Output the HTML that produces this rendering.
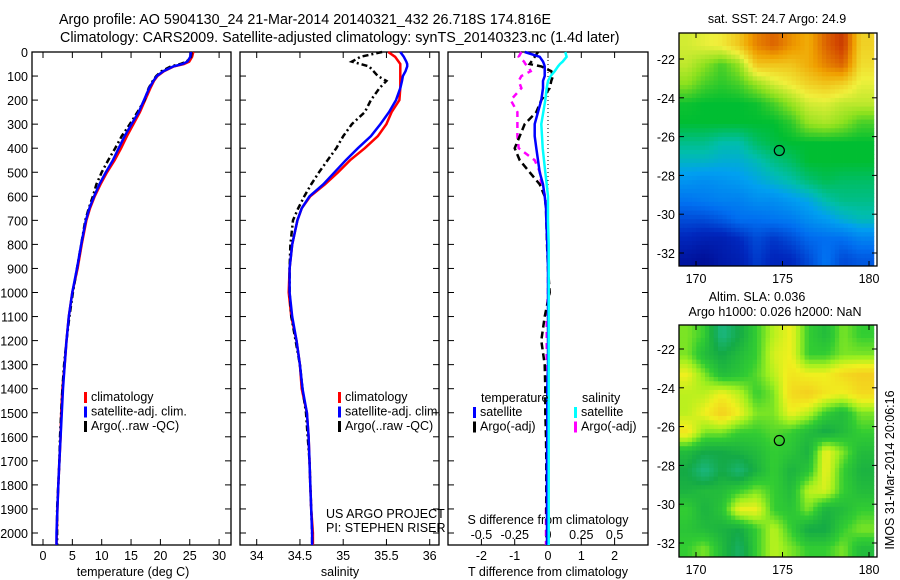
<!DOCTYPE html>
<html><head><meta charset="utf-8"><style>
html,body{margin:0;padding:0;background:#fff;}
svg{display:block;font-family:"Liberation Sans",sans-serif;}
text{font-size:12.5px;fill:#000;}
</style></head><body>
<svg id="fig" width="900" height="580" viewBox="0 0 900 580" xmlns="http://www.w3.org/2000/svg">
<text x="59" y="24" style="font-size:14.3px">Argo profile: AO 5904130_24 21-Mar-2014 20140321_432 26.718S 174.816E</text>
<text x="60" y="42" style="font-size:14.3px">Climatology: CARS2009. Satellite-adjusted climatology: synTS_20140323.nc (1.4d later)</text>
<g id="g1"></g>
<g id="g2"></g>
<g id="g3"></g>
<g id="m1"></g>
<g id="m2"></g>
<text x="777" y="23" text-anchor="middle">sat. SST: 24.7 Argo: 24.9</text>
<text x="757" y="301" text-anchor="middle">Altim. SLA: 0.036</text>
<text x="775" y="316" text-anchor="middle">Argo h1000: 0.026 h2000: NaN</text>
<text transform="translate(894,470) rotate(-90)" text-anchor="middle">IMOS 31-Mar-2014 20:06:16</text>
<text x="326" y="518">US ARGO PROJECT</text>
<text x="326" y="532">PI: STEPHEN RISER</text>
</svg>
<script>
// ---- data ----
const depthTicks=[0,100,200,300,400,500,600,700,800,900,1000,1100,1200,1300,1400,1500,1600,1700,1800,1900,2000];
const tempTicks=[0,5,10,15,20,25,30];
const salTicks=[34,34.5,35,35.5,36];
const salTickLabels=["34","34.5","35","35.5","36"];
const tdTicks=[-2,-1,0,1,2];
const sdTicks=[-0.5,-0.25,0,0.25,0.5];
const sdTickLabels=["-0.5","-0.25","0","0.25","0.5"];
const depths=[0,20,40,50,60,80,100,120,150,200,250,300,350,400,450,500,550,600,650,700,800,900,1000,1100,1200,1300,1400,1500,1600,1700,1800,1900,2000,2050];
const tempClim=[25.6,25.4,24.9,24,22.3,20.6,19.5,18.9,18.3,17.4,16.5,15.4,14.3,13.3,12.2,10.9,9.8,8.8,8.0,7.4,6.6,5.9,5.0,4.4,4.0,3.7,3.3,3.1,3.0,2.8,2.6,2.45,2.35,2.3];
const tempSat=[25.2,25.1,24.6,23.8,22.2,20.5,19.4,18.8,18.1,17.2,16.3,15.1,13.9,12.9,11.9,10.7,9.6,8.7,7.9,7.3,6.5,5.8,5.0,4.4,4.0,3.7,3.4,3.2,3.0,2.8,2.6,2.45,2.3,2.3];
const tempArgo=[25.3,25.2,24.5,23.4,21.8,20.2,19.3,18.7,18.0,17.3,16.1,14.8,13.4,12.3,11.1,10.0,9.1,8.5,7.8,7.2,6.5,5.8,5.1,4.5,4.0,3.6,3.3,3.1,2.9,2.8,2.6,2.4,2.4,2.4];
const salClim=[35.52,35.6,35.64,35.66,35.66,35.66,35.66,35.66,35.66,35.65,35.56,35.5,35.4,35.25,35.08,34.94,34.79,34.62,34.52,34.47,34.41,34.38,34.37,34.4,34.46,34.5,34.52,34.58,34.6,34.61,34.62,34.63,34.65,34.65];
const salSat=[35.66,35.7,35.73,35.74,35.74,35.72,35.69,35.68,35.66,35.61,35.53,35.43,35.32,35.17,35.03,34.9,34.77,34.61,34.52,34.47,34.41,34.38,34.38,34.41,34.46,34.5,34.53,34.58,34.6,34.61,34.62,34.63,34.64,34.64];
const salArgo=[35.45,35.2,35.1,35.2,35.3,35.35,35.4,35.5,35.42,35.32,35.25,35.1,35.0,34.92,34.82,34.72,34.63,34.55,34.48,34.42,34.39,34.38,34.38,34.4,34.45,34.5,34.53,34.57,34.59,34.61,34.62,34.63,34.64,34.64];
const tdSat=[-0.7,-0.25,-0.15,-0.12,-0.1,-0.1,-0.1,-0.15,-0.15,-0.2,-0.3,-0.4,-0.4,-0.35,-0.3,-0.25,-0.15,-0.1,-0.06,-0.05,-0.02,0,0,0,0,0,-0.02,-0.02,-0.02,-0.03,-0.03,-0.03,-0.03,-0.03];
const sdSat=[0.13,0.14,0.11,0.09,0.075,0.05,0.02,0.0,-0.01,-0.02,-0.035,-0.05,-0.045,-0.04,-0.03,-0.02,-0.01,0,0,0,0.005,0.005,0.005,0.005,0.005,0.005,0.005,0.005,0.005,0.005,0.005,0.005,0.005,0.005];
const tdArgo=[-0.3,-0.4,-0.5,-0.55,-0.2,0.1,0.15,0.1,0.05,-0.2,-0.35,-0.7,-0.85,-1.0,-0.85,-0.55,-0.25,-0.1,-0.06,-0.05,-0.03,0,0.05,-0.1,-0.2,-0.1,-0.08,-0.08,-0.06,-0.05,-0.05,-0.05,-0.03,-0.03];
const sdArgo=[-0.2,-0.22,-0.18,-0.17,-0.15,-0.13,-0.2,-0.22,-0.2,-0.28,-0.23,-0.23,-0.23,-0.22,-0.1,-0.06,-0.05,-0.02,-0.01,-0.01,0,0,0,-0.01,-0.01,-0.01,-0.01,-0.01,-0.01,-0.01,-0.01,-0.015,-0.015,-0.015];
const lonTicks=[170,175,180];
const latTicks=[-22,-24,-26,-28,-30,-32];
const sstGrid=[
[0.62,0.64,0.66,0.72,0.82,0.86,0.8,0.76,0.86,0.92,0.7],
[0.6,0.55,0.5,0.56,0.72,0.72,0.72,0.76,0.82,0.86,0.68],
[0.55,0.5,0.48,0.5,0.56,0.62,0.66,0.7,0.72,0.7,0.64],
[0.46,0.45,0.45,0.45,0.46,0.5,0.56,0.62,0.63,0.6,0.6],
[0.45,0.45,0.45,0.45,0.45,0.45,0.48,0.56,0.58,0.55,0.5],
[0.4,0.4,0.38,0.38,0.42,0.44,0.45,0.45,0.45,0.45,0.45],
[0.36,0.36,0.35,0.35,0.37,0.4,0.42,0.45,0.45,0.45,0.45],
[0.31,0.3,0.31,0.32,0.34,0.36,0.38,0.41,0.43,0.42,0.42],
[0.26,0.27,0.28,0.28,0.3,0.3,0.32,0.34,0.38,0.4,0.4],
[0.2,0.2,0.22,0.25,0.25,0.26,0.27,0.3,0.32,0.35,0.37],
[0.14,0.12,0.12,0.15,0.2,0.17,0.2,0.24,0.25,0.25,0.28],
[0.08,0.06,0.1,0.12,0.18,0.14,0.15,0.2,0.26,0.2,0.22]];
const slaGrid=[
[.6,.5,.1,.3,.5,.7,.8,.5,.4,.6,.5],
[.6,.4,.3,.4,.5,.75,.8,.5,.5,.6,.6],
[.8,.6,.4,.45,.55,.7,.85,.8,.8,.9,.95],
[.7,.7,.8,.7,.5,.6,.9,.95,.85,.8,.9],
[.7,.8,.95,.8,.6,.6,.8,.7,.5,.4,.6],
[.85,.6,.6,.5,.5,.55,.5,.4,.3,.4,.5],
[.4,.3,.3,.35,.4,.5,.45,.35,.8,.6,.4],
[.3,.1,.3,.15,.35,.5,.35,.45,.8,.5,.35],
[.35,.4,.4,.5,.6,.5,.4,.7,.75,.5,.4],
[.5,.35,.45,.8,.8,.5,.45,.6,.35,.4,.5],
[.45,.4,.35,.3,.5,.7,.5,.3,.3,.5,.6],
[.5,.6,.4,.2,.5,.7,.6,.5,.5,.6,.4]];
const floatLon=174.816, floatLat=-26.718;

// ---- helpers ----
const NS="http://www.w3.org/2000/svg";
function mk(parent,tag,attrs,txt){const e=document.createElementNS(NS,tag);for(const k in attrs)e.setAttribute(k,attrs[k]);if(txt!==undefined)e.textContent=txt;parent.appendChild(e);return e;}
const Y0=52,PXD=0.2405;
const yD=d=>Y0+d*PXD;
const BOT=545;

function frame(g,x0,x1,name){
  const r=mk(g,'rect',{x:x0,y:Y0,width:x1-x0,height:BOT-Y0,fill:'none',stroke:'#000','stroke-width':1.3});
  
  
  depthTicks.forEach(d=>{
    mk(g,'line',{x1:x0,x2:x0+6,y1:yD(d),y2:yD(d),stroke:'#000'});
    mk(g,'line',{x1:x1,x2:x1-6,y1:yD(d),y2:yD(d),stroke:'#000'});
  });
}
function xticks(g,vals,labels,xf,ly){
  vals.forEach((v,i)=>{
    const x=xf(v);
    mk(g,'line',{x1:x,x2:x,y1:Y0,y2:Y0+6,stroke:'#000'});
    mk(g,'line',{x1:x,x2:x,y1:BOT,y2:BOT-6,stroke:'#000'});
    if(ly){const t=mk(g,'text',{x:x,y:ly,'text-anchor':'middle'},labels[i]);
    
    }
  });
}
function line(g,xs,xf,color,w,dash,name){
  const pts=xs.map((v,i)=>xf(v).toFixed(1)+','+yD(depths[i]).toFixed(1)).join(' ');
  const p=mk(g,'polyline',{points:pts,fill:'none',stroke:color,'stroke-width':w,'stroke-dasharray':dash||'none'});
  
  
}
function legend(g,x,y,items){
  items.forEach((it,i)=>{
    mk(g,'rect',{x:x,y:y+i*14.5-9,width:3,height:11,fill:it[0]});
    const t=mk(g,'text',{x:x+7,y:y+i*14.5},it[1]);
    
    
  });
}

// ---- panel 1: temperature ----
const g1=document.getElementById('g1');
const xT=v=>43+v*5.87;
frame(g1,32,231,'temperature-axes');
depthTicks.forEach(d=>{const t=mk(g1,'text',{x:28,y:yD(d)+5,'text-anchor':'end'},String(d));

});
xticks(g1,tempTicks,tempTicks.map(String),xT,560);
mk(g1,'text',{x:133,y:576,'text-anchor':'middle'},'temperature (deg C)');
line(g1,tempClim,xT,'#f00',2.5,null,'temp-climatology-line');
line(g1,tempArgo,xT,'#000',2.5,'6 3 2 3','temp-argo-line');
line(g1,tempSat,xT,'#00f',2.5,null,'temp-satellite-line');
legend(g1,84,401,[['#f00','climatology'],['#00f','satellite-adj. clim.'],['#000','Argo(..raw -QC)']]);

// ---- panel 2: salinity ----
const g2=document.getElementById('g2');
const xS=v=>256.7+(v-34)*86.5;
frame(g2,240,439,'salinity-axes');
xticks(g2,salTicks,salTickLabels,xS,560);
mk(g2,'text',{x:340,y:576,'text-anchor':'middle'},'salinity');
line(g2,salClim,xS,'#f00',2.5,null,'sal-climatology-line');
line(g2,salArgo,xS,'#000',2.5,'6 3 2 3','sal-argo-line');
line(g2,salSat,xS,'#00f',2.5,null,'sal-satellite-line');
legend(g2,338,401,[['#f00','climatology'],['#00f','satellite-adj. clim.'],['#000','Argo(..raw -QC)']]);

// ---- panel 3: differences ----
const g3=document.getElementById('g3');
const xTd=v=>548+v*33.3;
const xSd=v=>548+v*133.2;
frame(g3,448,648,'difference-axes');
xticks(g3,tdTicks,tdTicks.map(String),xTd,560);
sdTicks.forEach((v,i)=>{const t=mk(g3,'text',{x:xSd(v),y:539,'text-anchor':'middle'},sdTickLabels[i]);

});
mk(g3,'text',{x:548,y:524,'text-anchor':'middle'},'S difference from climatology');
mk(g3,'text',{x:548,y:576,'text-anchor':'middle'},'T difference from climatology');
mk(g3,'line',{x1:548,x2:548,y1:Y0,y2:BOT,stroke:'#000','stroke-dasharray':'1 3'});
line(g3,sdArgo,xSd,'#f0f',2.5,'6 5','sal-diff-argo-line');
line(g3,tdArgo,xTd,'#000',2.5,'7 4','temp-diff-argo-line');
line(g3,tdSat,xTd,'#00f',2.5,null,'temp-diff-satellite-line');
line(g3,sdSat,xSd,'#0ff',2.5,null,'sal-diff-satellite-line');
mk(g3,'text',{x:481,y:402},'temperature');
mk(g3,'text',{x:582,y:402},'salinity');
legend(g3,473,416,[['#00f','satellite'],['#000','Argo(-adj)']]);
legend(g3,574,416,[['#0ff','satellite'],['#f0f','Argo(-adj)']]);

// ---- maps ----
function cmap(stops,v){
  v=Math.max(0,Math.min(1,v));
  for(let i=1;i<stops.length;i++){if(v<=stops[i][0]){const a=stops[i-1],b=stops[i],t=(v-a[0])/(b[0]-a[0]||1);
    const c=[0,1,2].map(k=>Math.round(a[1][k]+(b[1][k]-a[1][k])*t));return 'rgb('+c+')';}}
  return 'rgb('+stops[stops.length-1][1]+')';
}
const sstStops=[[0,[0,0,128]],[0.15,[0,40,190]],[0.25,[0,110,240]],[0.33,[0,160,240]],[0.38,[0,190,170]],[0.45,[0,190,50]],[0.55,[140,225,30]],[0.65,[240,240,60]],[0.78,[240,160,0]],[0.9,[210,70,0]],[1,[160,20,0]]];
const slaStops=[[0,[30,190,160]],[0.3,[20,170,70]],[0.5,[50,205,50]],[0.65,[160,240,30]],[0.8,[240,240,30]],[1,[245,195,30]]];
function drawMap(g,grid,stops,top,bot,y22,y32,name){
  const L=679,R=877,lonX=v=>696+(v-170)*17.3,latY=v=>y22+(v+22)*(y32-y22)/-10;
  const nr=grid.length,nc=grid[0].length,step=4.33;
  const lon0=169, lat0=-20.8;
  for(let y=top;y<bot;y+=step){
    for(let x=L;x<870;x+=step){
      const lon=170+(x+step/2-696)/17.3, lat=-22+(y+step/2-y22)/((y32-y22)/-10);
      let fr=(lat0-lat)-0.5, fc=(lon-lon0)-0.5;
      fr=Math.max(0,Math.min(nr-1.001,fr));fc=Math.max(0,Math.min(nc-1.001,fc));
      const r0=Math.floor(fr),c0=Math.floor(fc),tr=fr-r0,tc=fc-c0;
      const v=grid[r0][c0]*(1-tr)*(1-tc)+grid[r0+1][c0]*tr*(1-tc)+grid[r0][c0+1]*(1-tr)*tc+grid[r0+1][c0+1]*tr*tc;
      mk(g,'rect',{x:x.toFixed(2),y:y.toFixed(2),width:step+0.4,height:Math.min(step+0.4,bot-y),fill:cmap(stops,v)});
    }
  }
  const f=mk(g,'rect',{x:L,y:top,width:R-L,height:bot-top,fill:'none',stroke:'#000','stroke-width':1.3});
  
  
  lonTicks.forEach(v=>{const x=lonX(v);
    mk(g,'line',{x1:x,x2:x,y1:top,y2:top+5,stroke:'#000'});mk(g,'line',{x1:x,x2:x,y1:bot,y2:bot-5,stroke:'#000'});
    mk(g,'text',{x:x,y:bot+17,'text-anchor':'middle'},String(v));});
  latTicks.forEach(v=>{const y=latY(v);
    mk(g,'line',{x1:L,x2:L+5,y1:y,y2:y,stroke:'#000'});mk(g,'line',{x1:R,x2:R-5,y1:y,y2:y,stroke:'#000'});
    mk(g,'text',{x:L-4,y:y+5,'text-anchor':'end'},String(v));});
  const c=mk(g,'circle',{cx:lonX(floatLon),cy:latY(floatLat),r:5,fill:'none',stroke:'#000','stroke-width':1.2});
  
  
}
drawMap(document.getElementById('m1'),sstGrid,sstStops,33,266,59,253,'sst-map');
drawMap(document.getElementById('m2'),slaGrid,slaStops,325,557,349,543,'sla-map');
</script>
</body></html>
